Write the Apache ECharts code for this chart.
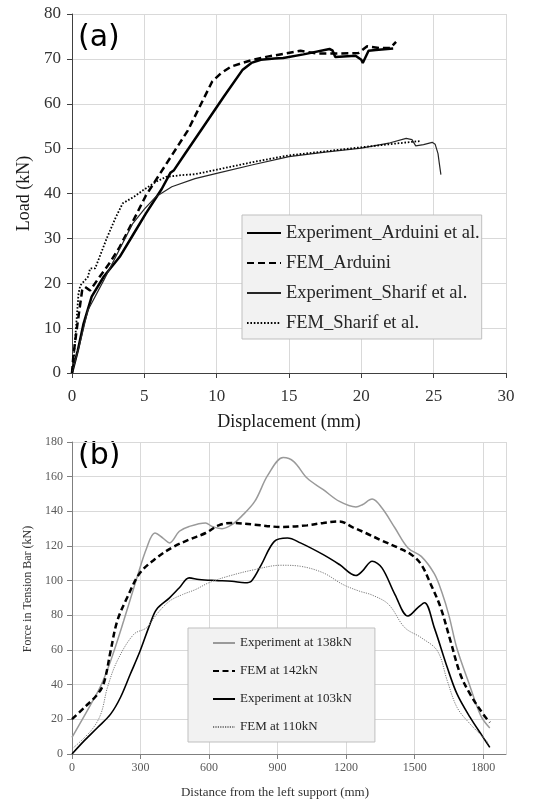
<!DOCTYPE html>
<html>
<head>
<meta charset="utf-8">
<script src="https://cdn.jsdelivr.net/npm/echarts@6/dist/echarts.min.js"></script>
<style>
html,body{margin:0;padding:0;background:#fff;}
#chart{width:534px;height:803px;}
</style>
</head>
<body>
<div id="chart"></div>
<script>
// ---------- (a) Load vs displacement ----------
var seriesNamesA = ['Experiment_Arduini et al.', 'FEM_Arduini', 'Experiment_Sharif et al.', 'FEM_Sharif et al.'];
var xTicksA = [0, 5, 10, 15, 20, 25, 30];
var yTicksA = [0, 10, 20, 30, 40, 50, 60, 70, 80];

var expArduiniX = [0, 0.4, 0.8, 1.36, 2.2, 3.3, 4.2, 5.1, 6.2, 6.8, 7.05, 7.8, 9.0, 10.5, 11.8, 12.4, 13.05, 14.0, 14.6, 16.0, 17.8, 18.0, 18.2, 19.6, 20.0, 20.1, 20.5, 21.0, 22.2];
var expArduiniY = [0, 5, 11, 17, 21.5, 25.9, 30.7, 35.5, 41, 44.6, 45.2, 48.8, 54.5, 61.6, 67.6, 69.1, 69.8, 70.1, 70.2, 71.0, 72.2, 71.9, 70.4, 70.7, 69.8, 69.1, 71.8, 72.0, 72.3];

var femArduiniX = [0, 0.1, 0.35, 0.7, 0.9, 1.25, 1.9, 2.6, 3.3, 4.4, 5.1, 6.5, 8.0, 9.7, 10.3, 11.0, 12.4, 13.5, 14.6, 15.8, 16.9, 18.5, 19.8, 20.4, 21.3, 22.0, 22.4];
var femArduiniY = [0, 4, 10.3, 18.4, 19.2, 18.4, 21.4, 24.5, 28.1, 35.0, 39.5, 46.5, 54.0, 65.0, 66.8, 68.3, 69.7, 70.5, 71.1, 71.8, 71.2, 71.2, 71.3, 72.8, 72.4, 72.4, 73.8];

var expSharifX = [0, 0.5, 1.1, 2.2, 3.2, 4.2, 5.0, 5.8, 6.9, 8.5, 10, 12.5, 15, 17.5, 20, 22, 23.1, 23.5, 23.76, 24.3, 24.9, 25.1, 25.3, 25.4, 25.5];
var expSharifY = [0, 6, 14, 20.7, 27, 33.3, 36.5, 39.3, 41.5, 43.3, 44.5, 46.4, 48.2, 49.2, 50.1, 51.3, 52.3, 52.0, 50.6, 50.9, 51.4, 51.0, 48.9, 46.5, 44.2];

var femSharifX = [0, 0.1, 0.23, 0.45, 0.57, 1.1, 1.25, 1.6, 2.4, 3.0, 3.5, 4.3, 4.9, 5.8, 6.5, 7.6, 8.5, 10, 12.5, 15, 17.5, 20, 22, 24.1];
var femSharifY = [0, 2, 8, 17.7, 19.5, 21.4, 23.3, 23.3, 30, 34.5, 37.8, 39.3, 40.7, 42.6, 43.7, 44.1, 44.3, 45.3, 47, 48.5, 49.4, 50.3, 51, 51.7];

// ---------- (b) Force in tension bar vs distance ----------
var seriesNamesB = ['Experiment at 138kN', 'FEM at 142kN', 'Experiment at 103kN', 'FEM at 110kN'];
var xTicksB = [0, 300, 600, 900, 1200, 1500, 1800];
var yTicksB = [0, 20, 40, 60, 80, 100, 120, 140, 160, 180];

var exp138X = [0, 83, 126, 169, 226, 284, 327, 363, 398, 427, 470, 513, 585, 613, 657, 700, 742, 800, 858, 925, 971, 1029, 1100, 1171, 1243, 1271, 1314, 1357, 1414, 1471, 1529, 1586, 1620, 1650, 1685, 1740, 1790, 1829];
var exp138Y = [9.6, 28.8, 39.3, 53.7, 76.7, 101.6, 118.9, 127.5, 124.6, 121.8, 128.5, 131.3, 133.3, 131.3, 130, 132.3, 137.1, 145.7, 161, 171, 168.7, 159.2, 152.5, 145.7, 142.5, 143.8, 147.1, 141.9, 130.4, 118.9, 114, 104, 93, 80, 61, 40, 22, 15];

var fem142X = [0, 54, 112, 140, 169, 198, 241, 298, 370, 441, 513, 585, 642, 700, 800, 915, 1029, 1100, 1171, 1229, 1286, 1357, 1429, 1486, 1529, 1571, 1614, 1657, 1700, 1743, 1800, 1829];
var fem142Y = [20.1, 26.8, 34.5, 41.2, 59.4, 76.7, 90.1, 104.5, 113.1, 119.3, 123.7, 127.5, 131.9, 133.3, 132.3, 131, 131.9, 133.3, 134.2, 130.8, 127.5, 123.1, 118.9, 115, 109.3, 97.8, 84.4, 65.2, 46, 34.5, 23, 18.2];

var exp103X = [0, 54, 112, 169, 212, 255, 298, 341, 370, 427, 470, 513, 556, 628, 700, 757, 785, 829, 886, 943, 1000, 1100, 1171, 1243, 1271, 1314, 1357, 1414, 1471, 1514, 1543, 1586, 1643, 1686, 1743, 1800, 1829];
var exp103Y = [0, 7.7, 15.3, 23, 32.6, 46, 59.4, 74.8, 83.4, 90.1, 95.9, 101.6, 100.7, 100.1, 99.7, 98.8, 99.7, 109.3, 122.7, 124.6, 121.8, 115, 109.3, 103, 105.5, 111.2, 107.4, 92, 79.6, 84.4, 87.3, 72.9, 49.9, 34.5, 21.1, 9.6, 3.8];

var fem110X = [0, 83, 126, 155, 198, 270, 327, 370, 427, 484, 541, 599, 685, 800, 915, 1000, 1100, 1186, 1257, 1314, 1386, 1457, 1529, 1600, 1643, 1686, 1743, 1814, 1821];
var fem110Y = [2.9, 13.4, 23, 38.3, 53.7, 69, 72.9, 80.5, 88.2, 92, 94.9, 98.8, 102.6, 106.4, 108.9, 108.3, 104.5, 97.8, 94, 91.7, 86.3, 72.9, 67.1, 59.4, 42.2, 26.8, 17.3, 7.7, 5.8];

function zip(xs, ys) { return xs.map(function (x, i) { return [x, ys[i]]; }); }

var SERIF = '"Liberation Serif", "Times New Roman", serif';

function lineSeries(name, xi, yi, xs, ys, color, width, type, smooth) {
  return {
    name: name, type: 'line', xAxisIndex: xi, yAxisIndex: yi,
    data: zip(xs, ys), symbol: 'none', showSymbol: false, smooth: smooth || false,
    lineStyle: { color: color, width: width, type: type },
    itemStyle: { color: color },
    animation: false, z: 3
  };
}

var chart = echarts.init(document.getElementById('chart'), null, { renderer: 'canvas' });

var option = {
  backgroundColor: '#ffffff',
  animation: false,
  grid: [
    { left: 72, top: 14, width: 434, height: 359 },
    { left: 72, top: 442, width: 434, height: 312 }
  ],
  xAxis: [
    {
      gridIndex: 0, type: 'value', min: xTicksA[0], max: xTicksA[xTicksA.length - 1], interval: 5,
      name: 'Displacement (mm)', nameLocation: 'middle', nameGap: 40,
      nameTextStyle: { fontFamily: SERIF, fontSize: 18, color: '#1a1a1a' },
      axisLine: { show: true, lineStyle: { color: '#404040', width: 1 } },
      axisTick: { show: true, inside: false, length: 5, lineStyle: { color: '#404040' } },
      axisLabel: { fontFamily: SERIF, fontSize: 17, color: '#333333', margin: 15 },
      splitLine: { show: true, lineStyle: { color: '#d9d9d9', width: 1 } }
    },
    {
      gridIndex: 1, type: 'value', min: 0, max: 1900, interval: 300,
      name: 'Distance from the left support (mm)', nameLocation: 'middle', nameGap: 32,
      nameTextStyle: { fontFamily: SERIF, fontSize: 13, color: '#333333', padding: [0, 28, 0, 0] },
      axisLine: { show: true, lineStyle: { color: '#7f7f7f', width: 1 } },
      axisTick: { show: true, inside: false, length: 5, lineStyle: { color: '#7f7f7f' } },
      axisLabel: { fontFamily: SERIF, fontSize: 12, color: '#595959', margin: 8, showMaxLabel: false,
        formatter: function (v) { return xTicksB.indexOf(v) >= 0 ? String(v) : ''; } },
      splitLine: { show: true, lineStyle: { color: '#d9d9d9', width: 1 } }
    }
  ],
  yAxis: [
    {
      gridIndex: 0, type: 'value', min: yTicksA[0], max: yTicksA[yTicksA.length - 1], interval: 10,
      name: 'Load (kN)', nameLocation: 'middle', nameGap: 38,
      nameTextStyle: { fontFamily: SERIF, fontSize: 18, color: '#1a1a1a' },
      axisLine: { show: true, lineStyle: { color: '#404040', width: 1 } },
      axisTick: { show: true, inside: false, length: 5, lineStyle: { color: '#404040' } },
      axisLabel: { fontFamily: SERIF, fontSize: 17, color: '#333333', margin: 11 },
      splitLine: { show: true, lineStyle: { color: '#d9d9d9', width: 1 } }
    },
    {
      gridIndex: 1, type: 'value', min: yTicksB[0], max: yTicksB[yTicksB.length - 1], interval: 20,
      name: 'Force in Tension Bar (kN)', nameLocation: 'middle', nameGap: 33,
      nameTextStyle: { fontFamily: SERIF, fontSize: 12, color: '#333333', padding: [0, 0, 0, 18] },
      axisLine: { show: true, lineStyle: { color: '#7f7f7f', width: 1 } },
      axisTick: { show: true, inside: false, length: 5, lineStyle: { color: '#7f7f7f' } },
      axisLabel: { fontFamily: SERIF, fontSize: 12, color: '#595959', margin: 9 },
      splitLine: { show: true, lineStyle: { color: '#d9d9d9', width: 1 } }
    }
  ],
  legend: [
    {
      data: seriesNamesA, orient: 'vertical', left: 242, top: 215,
      backgroundColor: '#f2f2f2', borderColor: '#bfbfbf', borderWidth: 1, borderRadius: 0,
      padding: [8, 2, 6, 4], itemWidth: 34, itemHeight: 14, itemGap: 10,
      selectedMode: false,
      itemStyle: { opacity: 0 },
      textStyle: { fontFamily: SERIF, fontSize: 18.5, lineHeight: 20, color: '#262626' }
    },
    {
      data: seriesNamesB, orient: 'vertical', left: 188, top: 628,
      backgroundColor: '#f2f2f2', borderColor: '#bfbfbf', borderWidth: 1, borderRadius: 0,
      padding: [8, 23, 8, 24], itemWidth: 22, itemHeight: 14, itemGap: 14,
      selectedMode: false,
      itemStyle: { opacity: 0 },
      textStyle: { fontFamily: SERIF, fontSize: 13, lineHeight: 14, color: '#262626' }
    }
  ],
  graphic: [
    { type: 'text', left: 78, top: 23, style: { text: '(a)', font: '30px "DejaVu Sans", sans-serif', fill: '#000' } },
    { type: 'text', left: 78, top: 441, style: { text: '(b)', font: '30px "DejaVu Sans", sans-serif', fill: '#000' } }
  ],
  series: [
    lineSeries(seriesNamesA[0], 0, 0, expArduiniX, expArduiniY, '#000000', 2.5, 'solid'),
    lineSeries(seriesNamesA[1], 0, 0, femArduiniX, femArduiniY, '#000000', 2.5, [7, 4]),
    lineSeries(seriesNamesA[2], 0, 0, expSharifX, expSharifY, '#262626', 1.2, 'solid'),
    lineSeries(seriesNamesA[3], 0, 0, femSharifX, femSharifY, '#000000', 1.8, [1.6, 1.8]),
    lineSeries(seriesNamesB[0], 1, 1, exp138X, exp138Y, '#9a9a9a', 1.5, 'solid', 0.35),
    lineSeries(seriesNamesB[1], 1, 1, fem142X, fem142Y, '#000000', 2.5, [6, 3.5], 0.35),
    lineSeries(seriesNamesB[2], 1, 1, exp103X, exp103Y, '#000000', 1.6, 'solid', 0.35),
    lineSeries(seriesNamesB[3], 1, 1, fem110X, fem110Y, '#7a7a7a', 1, [1.2, 1.2], 0.35)
  ]
};
chart.setOption(option);
</script>
</body>
</html>
